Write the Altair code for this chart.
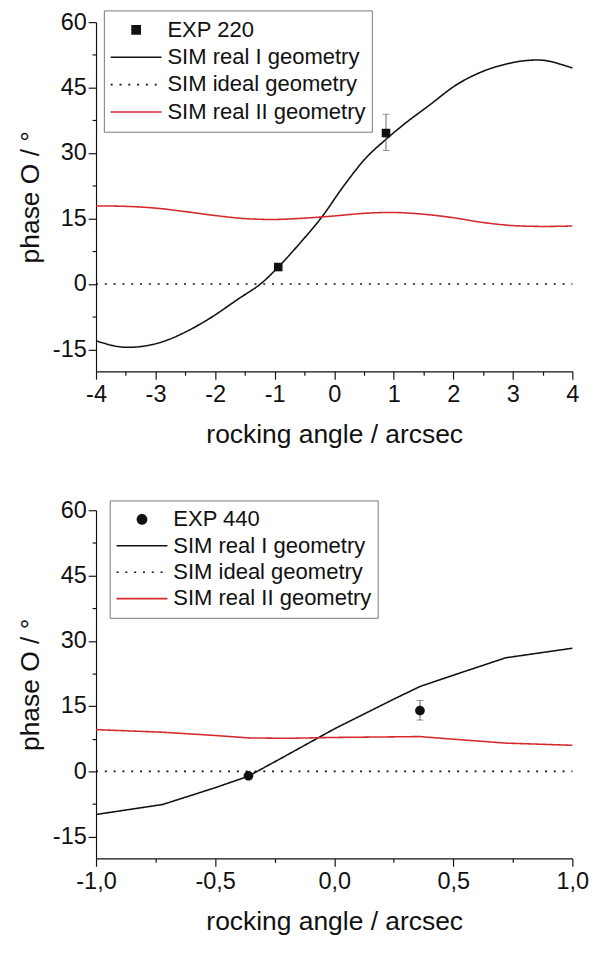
import altair as alt
import pandas as pd

FONT = "Liberation Sans"
BLACK = "#111111"
RED = "#d42a2e"

# ---------------- top panel (220) ----------------
top_series = ["EXP 220", "SIM real I geometry", "SIM ideal geometry", "SIM real II geometry"]
top_I_x = [-4, -3.62, -3.27, -2.88, -2.5, -2.06, -1.62, -1.24, -0.94, -0.56, -0.2, 0.15, 0.54, 0.865, 1.19, 1.6, 2.07, 2.51, 2.89, 3.22, 3.55, 4]
top_I_y = [-13.0, -14.35, -14.35, -13.2, -11.0, -7.6, -3.5, 0.0, 3.9, 9.6, 15.5, 22.3, 29.0, 33.1, 36.8, 41.0, 45.8, 48.8, 50.4, 51.2, 51.2, 49.5]
top_II_x = [-4, -3.5, -3, -2.5, -2, -1.5, -1, -0.5, 0, 0.5, 1, 1.5, 2, 2.5, 3, 3.5, 4]
top_II_y = [17.9, 17.8, 17.4, 16.6, 15.7, 15.0, 14.8, 15.1, 15.6, 16.2, 16.4, 16.0, 15.2, 14.1, 13.4, 13.2, 13.3]
top_ideal_x = [-4, 4]
top_ideal_y = [0, 0]
top_exp_x = [-0.94, 0.87]
top_exp_y = [3.9, 34.6]
top_err_x = [0.87]
top_err_lo = [30.6]
top_err_hi = [38.9]
top_x_major = [-4, -3, -2, -1, 0, 1, 2, 3, 4]
top_x_minor = [-3.5, -2.5, -1.5, -0.5, 0.5, 1.5, 2.5, 3.5]

# ---------------- bottom panel (440) ----------------
bot_series = ["EXP 440", "SIM real I geometry", "SIM ideal geometry", "SIM real II geometry"]
bot_I_x = [-1, -0.72, -0.5, -0.36, -0.2, 0, 0.25, 0.36, 0.5, 0.72, 1]
bot_I_y = [-9.9, -7.6, -3.75, -1.1, 3.7, 9.75, 16.6, 19.5, 22.1, 26.1, 28.3]
bot_II_x = [-1, -0.72, -0.5, -0.36, -0.2, 0, 0.36, 0.5, 0.72, 1]
bot_II_y = [9.6, 9.0, 8.25, 7.7, 7.6, 7.8, 8.0, 7.4, 6.5, 6.0]
bot_ideal_x = [-1, 1]
bot_ideal_y = [0, 0]
bot_exp_x = [-0.36, 0.36]
bot_exp_y = [-1.0, 14.0]
bot_err_x = [0.36]
bot_err_lo = [11.8]
bot_err_hi = [16.3]
bot_x_major = [-1, -0.5, 0, 0.5, 1]
bot_x_minor = [-0.75, -0.25, 0.25, 0.75]

y_major = [-15, 0, 15, 30, 45, 60]
y_minor = [-7.5, 7.5, 22.5, 37.5, 52.5]

SQUARE = "M-0.16,-0.16L0.16,-0.16L0.16,0.16L-0.16,0.16Z"
CIRCLE = "M0.18,0A0.18,0.18,0,1,1,-0.18,0A0.18,0.18,0,1,1,0.18,0Z"


def panel(series, Ix, Iy, IIx, IIy, idx, idy, ex, ey, erx, erlo, erhi,
          xmaj, xmin, xdom, label_expr, marker, interp, lx, ly, row_h, height):
    lines = pd.DataFrame({
        "series": [series[1]] * len(Ix) + [series[2]] * len(idx) + [series[3]] * len(IIx),
        "x": Ix + idx + IIx,
        "y": Iy + idy + IIy,
    })
    pts = pd.DataFrame({"series": [series[0]] * len(ex), "x": ex, "y": ey})
    errs = pd.DataFrame({"x": erx, "lo": erlo, "hi": erhi})
    ideal = pd.DataFrame({"x": idx, "y": idy})

    xs = alt.Scale(domain=xdom, nice=False, zero=False)
    ys = alt.Scale(domain=[-20, 60], nice=False, zero=False)

    legend = alt.Legend(
        title=None, orient="none", legendX=lx, legendY=ly,
        symbolSize=2704, symbolStrokeWidth=1.6, clipHeight=row_h, rowPadding=0,
        labelFont=FONT, labelFontSize=22.5, labelColor=BLACK, labelOffset=5, labelLimit=0,
        padding=6, strokeColor="#777777", fillColor="white",
    )
    color_scale = alt.Scale(domain=series, range=[BLACK, BLACK, BLACK, RED])
    dash_scale = alt.Scale(domain=series, range=[[1, 0], [1, 0], [2, 7], [1, 0]])
    shape_scale = alt.Scale(domain=series, range=[marker, "stroke", "stroke", "stroke"])

    x_axis = alt.Axis(values=xmaj, labelExpr=label_expr, title="rocking angle / arcsec",
                      orient="bottom", tickSize=8, labelPadding=4, titlePadding=16,
                      grid=False, labelFlush=False)
    y_axis = alt.Axis(values=y_major, title="phase O / °", orient="left", tickSize=8,
                      labelPadding=2, titlePadding=8, grid=False,
                      labelExpr="replace(format(datum.value, 'd'), '\u2212', '-')")
    x_axis_minor = alt.Axis(values=xmin, labels=False, title=None, orient="bottom",
                            tickSize=4, grid=False, domain=False)
    y_axis_minor = alt.Axis(values=y_minor, labels=False, title=None, orient="left",
                            tickSize=4, grid=False, domain=False)

    line_layer = alt.Chart(lines).mark_line(strokeWidth=1.6, interpolate=interp).encode(
        x=alt.X("x:Q", scale=xs, axis=x_axis),
        y=alt.Y("y:Q", scale=ys, axis=y_axis),
        color=alt.Color("series:N", scale=color_scale, legend=legend),
        strokeDash=alt.StrokeDash("series:N", scale=dash_scale, legend=legend),
    )
    err_rule = alt.Chart(errs).mark_rule(color="#666666", strokeWidth=1).encode(
        x=alt.X("x:Q", scale=xs, axis=None),
        y=alt.Y("lo:Q", scale=ys, axis=None),
        y2="hi:Q",
    )
    err_lo = alt.Chart(errs).mark_tick(orient="horizontal", color="#666666", thickness=1, size=7).encode(
        x=alt.X("x:Q", scale=xs, axis=None),
        y=alt.Y("lo:Q", scale=ys, axis=None),
    )
    err_hi = alt.Chart(errs).mark_tick(orient="horizontal", color="#666666", thickness=1, size=7).encode(
        x=alt.X("x:Q", scale=xs, axis=None),
        y=alt.Y("hi:Q", scale=ys, axis=None),
    )
    point_layer = alt.Chart(pts).mark_point(filled=True, size=3000, opacity=1).encode(
        x=alt.X("x:Q", scale=xs, axis=None),
        y=alt.Y("y:Q", scale=ys, axis=None),
        color=alt.Color("series:N", scale=color_scale, legend=legend),
        shape=alt.Shape("series:N", scale=shape_scale, legend=legend),
    )
    minor_layer = alt.Chart(ideal).mark_point(opacity=0).encode(
        x=alt.X("x:Q", scale=xs, axis=x_axis_minor),
        y=alt.Y("y:Q", scale=ys, axis=y_axis_minor),
    )
    return alt.layer(line_layer, err_rule, err_lo, err_hi, point_layer, minor_layer).resolve_axis(
        x="independent", y="independent"
    ).properties(width=487, height=height)


top = panel(top_series, top_I_x, top_I_y, top_II_x, top_II_y, top_ideal_x, top_ideal_y,
            top_exp_x, top_exp_y, top_err_x, top_err_lo, top_err_hi,
            top_x_major, top_x_minor, [-4, 4],
            "replace(format(datum.value, 'd'), '\u2212', '-')", SQUARE, "catmull-rom",
            8, -12, 27.7, 357)
bottom = panel(bot_series, bot_I_x, bot_I_y, bot_II_x, bot_II_y, bot_ideal_x, bot_ideal_y,
               bot_exp_x, bot_exp_y, bot_err_x, bot_err_lo, bot_err_hi,
               bot_x_major, bot_x_minor, [-1, 1],
               "replace(replace(format(datum.value, '.1f'), '\u2212', '-'), '.', ',')", CIRCLE, "linear",
               14, -10, 26.7, 356)

chart = alt.vconcat(top, bottom, spacing=142, bounds="flush").resolve_scale(
    color="independent", shape="independent", strokeDash="independent"
).resolve_legend(color="independent", shape="independent", strokeDash="independent").properties(
    padding={"left": 9, "top": -9, "right": 0, "bottom": 0}
).configure_view(stroke=None).configure_axis(
    labelFont=FONT, labelFontSize=24, labelColor=BLACK,
    titleFont=FONT, titleFontSize=27, titleFontWeight="normal", titleColor=BLACK,
    domainColor=BLACK, tickColor=BLACK, domainWidth=1.2, tickWidth=1.2,
)

chart.save("out.html", embed_options={"renderer": "svg", "actions": False})
